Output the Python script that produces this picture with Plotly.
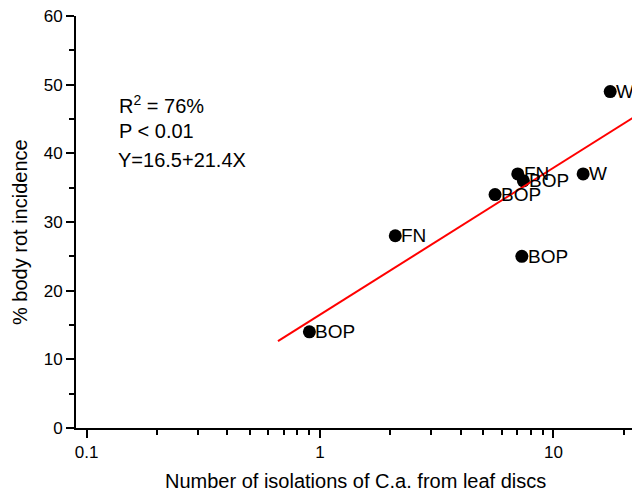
import plotly.graph_objects as go
import math

# Data
x_isolations = [0.90, 2.10, 7.32, 5.62, 7.03, 7.43, 13.4, 17.5]
y_rot = [14, 28, 25, 34, 37, 36, 37, 49]
site_labels = ["BOP", "FN", "BOP", "BOP", "FN", "BOP", "W", "W"]

fit_intercept = 16.5
fit_slope = 21.4
fit_x_range = [0.66, 40]

x_major_ticks = [0.1, 1, 10]
x_major_text = ["0.1", "1", "10"]
x_minor_ticks = [0.2, 0.3, 0.4, 0.5, 0.6, 0.7, 0.8, 0.9,
                 2, 3, 4, 5, 6, 7, 8, 9, 20, 30, 40, 50]
y_major_ticks = [0, 10, 20, 30, 40, 50, 60]
y_minor_ticks = [5, 15, 25, 35, 45, 55]

FONT = "Arial, Liberation Sans, sans-serif"

fit_y = [fit_intercept + fit_slope * math.log10(v) for v in fit_x_range]

fig = go.Figure()
fig.add_trace(go.Scatter(
    x=x_isolations, y=y_rot, mode="markers",
    marker=dict(color="black", size=13),
    cliponaxis=True, showlegend=False,
))
for xv, yv, lab in zip(x_isolations, y_rot, site_labels):
    fig.add_annotation(x=math.log10(xv), y=yv, xref="x", yref="y", text=lab,
                       showarrow=False, xanchor="left", yanchor="middle",
                       xshift=4, yshift=0,
                       font=dict(family=FONT, size=19, color="black"))
fig.add_trace(go.Scatter(
    x=fit_x_range, y=fit_y, mode="lines",
    line=dict(color="red", width=2), showlegend=False,
))

W, H = 632, 495
L, R, T, B = 76, 0, 16, 67
pw, ph = W - L - R, H - T - B

def px(xp):
    return (xp - L) / pw

def py(yp):
    return (H - B - yp) / ph

fig.update_layout(
    width=W, height=H,
    margin=dict(l=L, r=R, t=T, b=B, pad=0),
    paper_bgcolor="white", plot_bgcolor="white",
    font=dict(family=FONT, size=17, color="black"),
    xaxis=dict(
        type="log",
        range=[math.log10(0.09), math.log10(21.7)],
        showgrid=False, zeroline=False,
        showline=True, linecolor="black", linewidth=1.8,
        ticks="outside", ticklen=8, tickwidth=1.5, tickcolor="black",
        tickvals=x_major_ticks, ticktext=x_major_text,
        tickfont=dict(family=FONT, size=17, color="black"),
        minor=dict(tickvals=x_minor_ticks, ticks="outside", ticklen=5,
                   tickwidth=1.5, tickcolor="black", showgrid=False),
    ),
    yaxis=dict(
        range=[0, 60],
        showgrid=False, zeroline=False,
        showline=True, linecolor="black", linewidth=1.8,
        ticks="outside", ticklen=8, tickwidth=1.5, tickcolor="black",
        tickvals=y_major_ticks,
        tickfont=dict(family=FONT, size=17, color="black"),
        minor=dict(tickvals=y_minor_ticks, ticks="outside", ticklen=5,
                   tickwidth=1.5, tickcolor="black", showgrid=False),
    ),
)

annos = [
    dict(text="R<sup>2</sup> = 76%", x=px(117), y=py(104), xanchor="left", yanchor="middle"),
    dict(text="P < 0.01", x=px(117), y=py(131), xanchor="left", yanchor="middle"),
    dict(text="Y=16.5+21.4X", x=px(116), y=py(160), xanchor="left", yanchor="middle"),
]
for a in annos:
    fig.add_annotation(xref="paper", yref="paper", showarrow=False,
                       font=dict(family=FONT, size=20, color="black"), **a)

fig.add_annotation(text="Number of isolations of C.a. from leaf discs",
                   xref="paper", yref="paper", x=px(355), y=py(481),
                   xanchor="center", yanchor="middle", showarrow=False,
                   font=dict(family=FONT, size=20, color="black"))
fig.add_annotation(text="% body rot incidence",
                   xref="paper", yref="paper", x=px(20), y=py(232),
                   xanchor="center", yanchor="middle", showarrow=False,
                   textangle=-90,
                   font=dict(family=FONT, size=20, color="black"))

fig.write_html("out.html")
